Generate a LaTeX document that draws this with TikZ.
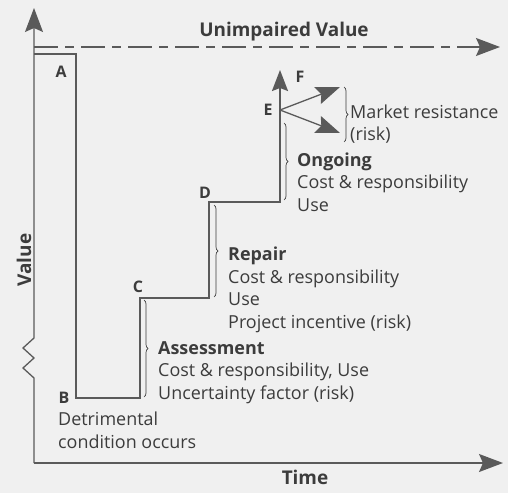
\documentclass[tikz,border=0pt]{standalone}
\usepackage{fontspec}
\setmainfont{Open Sans}
\usetikzlibrary{arrows.meta, decorations.pathreplacing}

\definecolor{ink}{HTML}{3C3C3C}
\definecolor{rule}{HTML}{5A5A5A}

\tikzset{
  axis/.style={rule, line width=1.3bp},
  curve/.style={rule, line width=1.8bp},
  tip/.style={-{Stealth[length=24bp, width=18bp, inset=4bp]}},
  brc/.style={ink, line width=0.7bp, decorate, decoration={brace, amplitude=4bp}},
  pt/.style={ink, font=\bfseries\fontsize{16}{18}\selectfont},
  head/.style={ink, font=\bfseries\fontsize{19}{21}\selectfont},
  txt/.style={ink, anchor=base west, align=left, inner sep=0pt, font=\fontsize{18}{22.5}\selectfont},
}

\begin{document}
\begin{tikzpicture}[x=1bp, y=-1bp]
  \fill[black!6] (0,0) rectangle (508,493);
  \useasboundingbox (0,0) rectangle (508,493);

  % axes, with a break in the value axis
  \coordinate (o) at (34,463);
  \coordinate (ytop) at (34,8);
  \coordinate (xend) at (503,463);
  \draw[axis, tip] (o) -- (34,378) -- (23,368) -- (34,358) -- (23,348) -- (34,338) -- (ytop);
  \draw[axis, tip] (o) -- (xend);
  \node[head, rotate=90] (value) at (24,260) {Value};
  \node[head] (time) at (305,477) {Time};

  % unimpaired level
  \coordinate (u0) at (34,47);
  \coordinate (u1) at (500,47);
  \draw[axis, dash pattern=on 24bp off 7bp on 9bp off 7bp, tip] (u0) -- (u1);
  \node[head] (unimp) at (284,32) {Unimpaired Value};

  % value over time
  \coordinate (a0) at (34,54);
  \coordinate (a1) at (76,54);
  \coordinate (b)  at (76,398);
  \coordinate (c0) at (140,398);
  \coordinate (c)  at (140,298);
  \coordinate (d0) at (209,298);
  \coordinate (d)  at (209,202);
  \coordinate (e0) at (280,202);
  \coordinate (e)  at (280,110);
  \coordinate (f)  at (280,70);
  \coordinate (up) at (340,87);
  \coordinate (dn) at (340,133);
  \draw[curve] (a0) -- (a1) -- (b) -- (c0) -- (c) -- (d0) -- (d) -- (e0) -- (e);
  \draw[curve, -{Stealth[length=21bp, width=16bp, inset=3bp]}] (e) -- (f);
  \draw[axis, tip] (e) -- (up);
  \draw[axis, tip] (e) -- (dn);

  % point labels
  \node[pt] (la) at (61,72) {A};
  \node[pt] (lb) at (64,398) {B};
  \node[pt] (lc) at (138,287) {C};
  \node[pt] (ld) at (205,193) {D};
  \node[pt] (le) at (268,110) {E};
  \node[pt] (lf) at (300,77) {F};

  % braces and notes
  \draw[brc] (344,87) -- (344,142);
  \node[txt] (market) at (350,141) {Market resistance\\(risk)};
  \draw[brc] (284,123) -- (284,200);
  \node[txt] (ongoing) at (297,211) {\textbf{Ongoing}\\Cost \& responsibility\\Use};
  \draw[brc] (214,205) -- (214,297);
  \node[txt] (repair) at (228,328) {\textbf{Repair}\\Cost \& responsibility\\Use\\Project incentive (risk)};
  \draw[brc] (144,300) -- (144,397);
  \node[txt] (assess) at (158,399) {\textbf{Assessment}\\Cost \& responsibility, Use\\Uncertainty factor (risk)};
  \node[txt] (detr) at (58,448) {Detrimental\\condition occurs};
\end{tikzpicture}
\end{document}
